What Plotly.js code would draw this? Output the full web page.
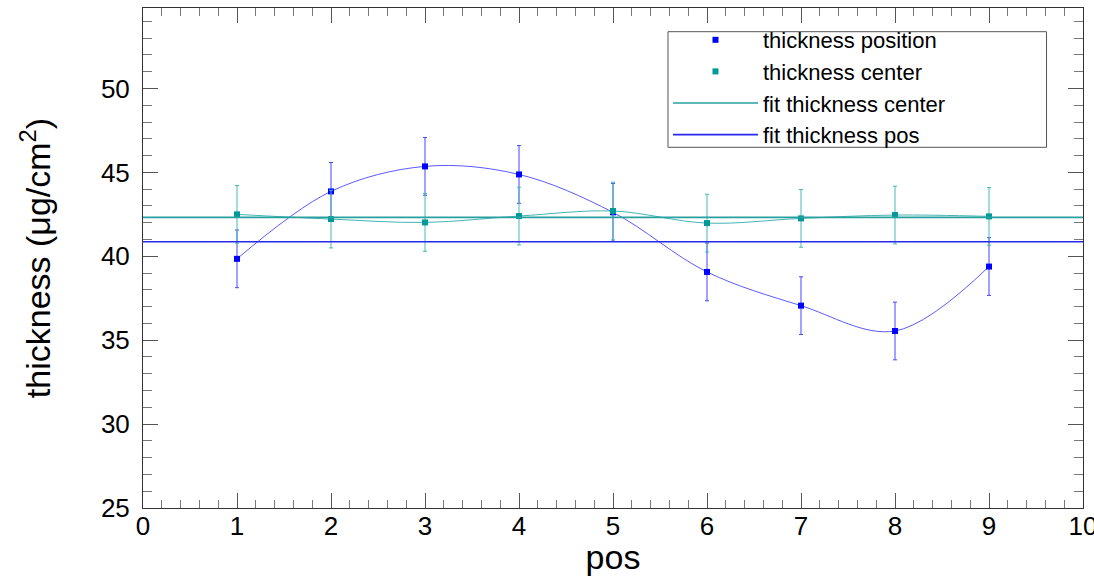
<!DOCTYPE html>
<html>
<head>
<meta charset="utf-8">
<script src="https://cdn.plot.ly/plotly-3.0.1.min.js"></script>
<style>html,body{margin:0;padding:0;background:#fff;}#chart{width:1094px;height:576px;}</style>
</head>
<body>
<div id="chart"></div>
<script>
// ---- data ----
var positions = [1, 2, 3, 4, 5, 6, 7, 8, 9];
var thicknessPosition = [39.85, 43.87, 45.36, 44.88, 42.62, 39.07, 37.06, 35.55, 39.39];
var thicknessPositionErr = [1.72, 1.72, 1.72, 1.72, 1.72, 1.72, 1.72, 1.72, 1.72];
var thicknessCenter = [42.50, 42.22, 42.02, 42.40, 42.70, 41.98, 42.26, 42.46, 42.38];
var thicknessCenterErr = [1.72, 1.72, 1.72, 1.72, 1.72, 1.72, 1.72, 1.72, 1.72];
var fitRangeX = [0, 10];
var fitCenterValue = 42.32;
var fitPosValue = 40.87;
var xTickVals = [0, 1, 2, 3, 4, 5, 6, 7, 8, 9, 10];
var yTickVals = [25, 30, 35, 40, 45, 50];

var BLUE = '#0000ff', TEAL = '#009999';
var FONT = 'Liberation Sans, Arial, Helvetica, sans-serif';

var traces = [
  { // smooth curve through position points
    x: positions, y: thicknessPosition, mode: 'lines', type: 'scatter',
    line: {color: 'rgb(90,90,255)', width: 1, shape: 'spline', smoothing: 1},
    showlegend: false, hoverinfo: 'skip'
  },
  { // smooth curve through center points
    x: positions, y: thicknessCenter, mode: 'lines', type: 'scatter',
    line: {color: 'rgb(70,180,180)', width: 1, shape: 'spline', smoothing: 1},
    showlegend: false, hoverinfo: 'skip'
  },
  {
    name: 'thickness position', x: positions, y: thicknessPosition,
    mode: 'markers', type: 'scatter',
    marker: {symbol: 'square', size: 6, color: BLUE},
    error_y: {type: 'data', array: thicknessPositionErr, visible: true, color: 'rgb(70,70,255)', thickness: 1, width: 2}
  },
  {
    name: 'thickness center', x: positions, y: thicknessCenter,
    mode: 'markers', type: 'scatter',
    marker: {symbol: 'square', size: 6, color: TEAL},
    error_y: {type: 'data', array: thicknessCenterErr, visible: true, color: 'rgb(70,185,185)', thickness: 1, width: 2}
  },
  {
    name: 'fit thickness center', x: fitRangeX, y: fitRangeX.map(function(){return fitCenterValue;}),
    mode: 'lines', type: 'scatter', line: {color: 'rgb(40,160,160)', width: 1.6}
  },
  {
    name: 'fit thickness pos', x: fitRangeX, y: fitRangeX.map(function(){return fitPosValue;}),
    mode: 'lines', type: 'scatter', line: {color: 'rgb(40,40,235)', width: 1.6}
  }
];

var layout = {
  width: 1094, height: 576,
  margin: {l: 143, r: 11, t: 8, b: 68, pad: 0},
  paper_bgcolor: '#fff', plot_bgcolor: '#fff',
  font: {family: FONT, color: '#000'},
  showlegend: true,
  xaxis: {
    range: [0, 10], tickvals: xTickVals, ticktext: xTickVals.map(String),
    ticks: 'inside', ticklen: 15, tickwidth: 1, tickcolor: '#555',
    minor: {dtick: 0.2, ticks: 'inside', ticklen: 8, tickcolor: '#777', tickwidth: 1, showgrid: false},
    showline: true, linecolor: '#333', linewidth: 1, mirror: 'allticks',
    showgrid: false, zeroline: false, ticklabeloverflow: 'allow',
    tickfont: {size: 26, family: FONT, color: '#000'}, ticklabelstandoff: -5,
    title: {text: 'pos', font: {size: 34, family: FONT, color: '#000'}, standoff: 10}
  },
  yaxis: {
    range: [25, 54.8], tickvals: yTickVals, ticktext: yTickVals.map(String),
    ticks: 'inside', ticklen: 15, tickwidth: 1, tickcolor: '#555',
    minor: {dtick: 1, ticks: 'inside', ticklen: 9, tickcolor: '#777', tickwidth: 1, showgrid: false},
    showline: true, linecolor: '#333', linewidth: 1, mirror: 'allticks',
    showgrid: false, zeroline: false,
    tickfont: {size: 26, family: FONT, color: '#000'}, ticklabelstandoff: 7,
    title: {text: 'thickness (μg/cm<sup>2</sup>)', font: {size: 34, family: FONT, color: '#000'}, standoff: 39}
  },
  legend: {
    x: 0.5585, y: 0.978, xanchor: 'left', yanchor: 'top',
    bgcolor: 'rgba(0,0,0,0)', borderwidth: 0,
    font: {size: 22, family: FONT, color: '#000'},
    itemwidth: 85, tracegroupgap: 0
  },
  shapes: [{
    type: 'rect', xref: 'paper', yref: 'paper',
    x0: 0.5585, x1: 0.9612, y0: 0.7214, y1: 0.9526,
    line: {color: '#555', width: 1}, fillcolor: 'rgba(255,255,255,0)', layer: 'above'
  }]
};

Plotly.newPlot('chart', traces, layout, {displayModeBar: false, staticPlot: true});
</script>
</body>
</html>
